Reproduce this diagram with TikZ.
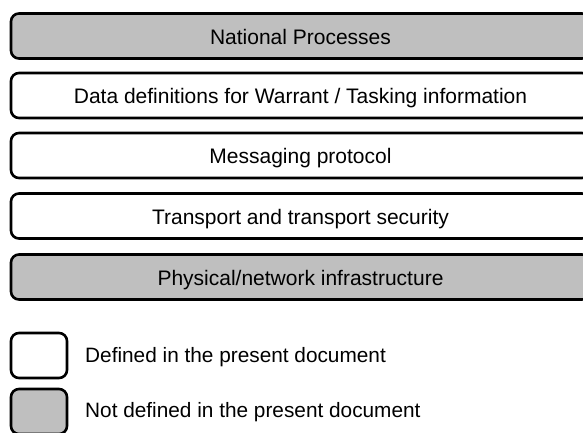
\documentclass[tikz,border=0pt]{standalone}
\usepackage{fontspec}
\setmainfont{Liberation Sans}
\begin{document}
\begin{tikzpicture}[x=1pt,y=-1pt,font=\fontsize{21}{24}\selectfont,
    layer/.style={draw, line width=2.6pt, rounded corners=8pt, minimum width=579pt, minimum height=45pt, inner sep=0pt, text height=16pt, text depth=0pt},
    grey/.style={layer, fill=black!25},
    key/.style={anchor=west, inner sep=0pt}
]
\useasboundingbox (0,0) rectangle (583,432);
% protocol stack, top to bottom
\node[grey]  (national)  at (300.5,36)  {National Processes};
\node[layer] (data)      at (300.5,95.5) {Data definitions for Warrant / Tasking information};
\node[layer] (messaging) at (300.5,155.5) {Messaging protocol};
\node[layer] (transport) at (300.5,216) {Transport and transport security};
\node[grey]  (physical)  at (300.5,277) {Physical/network infrastructure};
% legend
\node[layer, minimum width=56pt] (defbox)  at (39,355.5) {};
\node[grey,  minimum width=56pt] (ndefbox) at (39,411.5) {};
\node[key, font=\fontsize{20.8}{24}\selectfont] (deftext)  at (85,357.5) {Defined in the present document};
\node[key, font=\fontsize{20.8}{24}\selectfont] (ndeftext) at (85,412) {Not defined in the present document};
\end{tikzpicture}
\end{document}
